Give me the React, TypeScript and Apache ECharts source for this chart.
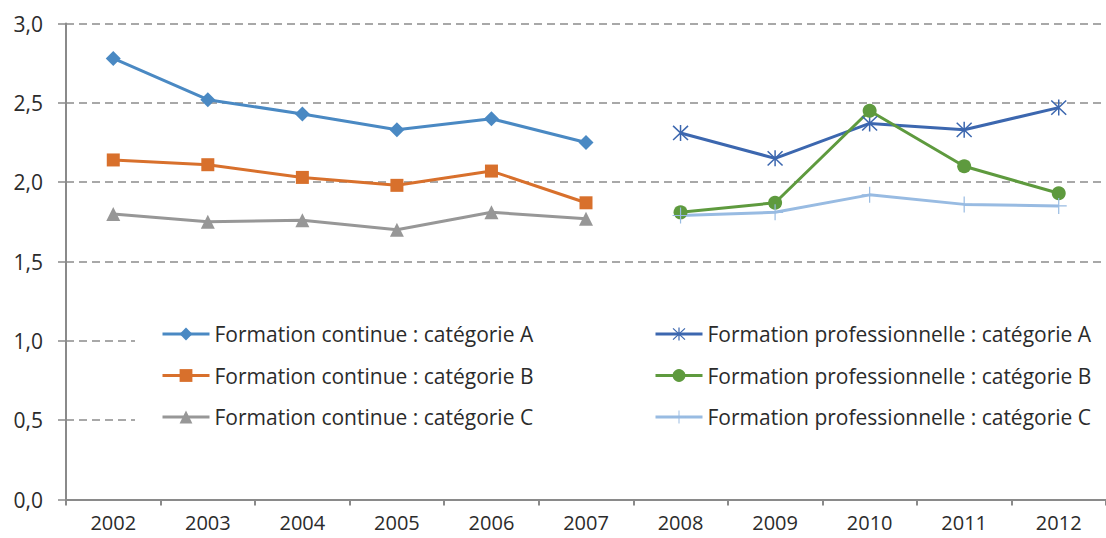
import React, { useEffect, useRef } from "react";
import * as echarts from "echarts";

const years = ["2002", "2003", "2004", "2005", "2006", "2007", "2008", "2009", "2010", "2011", "2012"];
const contA = [2.78, 2.52, 2.43, 2.33, 2.4, 2.25, null, null, null, null, null];
const contB = [2.14, 2.11, 2.03, 1.98, 2.07, 1.87, null, null, null, null, null];
const contC = [1.8, 1.75, 1.76, 1.7, 1.81, 1.77, null, null, null, null, null];
const proA = [null, null, null, null, null, null, 2.31, 2.15, 2.37, 2.33, 2.47];
const proB = [null, null, null, null, null, null, 1.81, 1.87, 2.45, 2.1, 1.93];
const proC = [null, null, null, null, null, null, 1.79, 1.81, 1.92, 1.86, 1.85];

const names = [
  "Formation continue : catégorie A",
  "Formation continue : catégorie B",
  "Formation continue : catégorie C",
  "Formation professionnelle : catégorie A",
  "Formation professionnelle : catégorie B",
  "Formation professionnelle : catégorie C",
];

const ASTERISK =
  "path://M9.2,1L10.8,1L10.8,19L9.2,19Z M2.57,1.43L18.57,17.43L17.43,18.57L1.43,2.57Z M18.57,2.57L2.57,18.57L1.43,17.43L17.43,1.43Z";
const PLUS = "path://M9.25,0L10.75,0L10.75,20L9.25,20Z M0,9.25L20,9.25L20,10.75L0,10.75Z";

const FONT = "Open Sans";
const TXT = "#2b2b2b";

export default function App() {
  const ref = useRef<HTMLDivElement>(null);
  useEffect(() => {
    const chart = echarts.init(ref.current!, null, { renderer: "svg" });
    const mk = (name: string, data: any[], color: string, symbol: string, size: number) => ({
      name,
      type: "line",
      data,
      symbol,
      symbolSize: size,
      showSymbol: true,
      connectNulls: false,
      lineStyle: { color, width: 3 },
      itemStyle: { color },
    });
    const legendBase = {
      orient: "vertical",
      top: 323,
      padding: 0,
      itemWidth: 47,
      itemHeight: 16,
      itemGap: 19.5,
      lineStyle: { width: 3 },
      textStyle: { fontSize: 21, color: TXT, fontFamily: FONT, lineHeight: 22 },
    };
    chart.setOption({
      animation: false,
      backgroundColor: "#ffffff",
      textStyle: { fontFamily: FONT },
      grid: { left: 66, top: 23.5, width: 1046, bottom: 38.5, containLabel: false },
      xAxis: {
        type: "category",
        data: years,
        boundaryGap: true,
        axisLine: { lineStyle: { color: "#8a8a8a", width: 2 } },
        axisTick: { show: true, length: 6, lineStyle: { color: "#8a8a8a", width: 2 } },
        axisLabel: { color: TXT, fontSize: 20, lineHeight: 20, margin: 13, fontFamily: FONT },
        splitLine: { show: false },
      },
      yAxis: {
        type: "value",
        min: 0,
        max: 3,
        interval: 0.5,
        axisLine: { show: true, lineStyle: { color: "#8a8a8a", width: 2 } },
        axisTick: { show: true, length: 8, lineStyle: { color: "#8a8a8a", width: 1.5 } },
        axisLabel: {
          color: TXT,
          fontSize: 21,
          margin: 23,
          fontFamily: FONT,
          formatter: (v: number) => v.toFixed(1).replace(".", ","),
        },
        splitLine: { show: true, lineStyle: { color: "#8c8c8c", width: 1.5, type: [8, 5] } },
      },
      graphic: [
        {
          type: "rect",
          z: 1,
          shape: { x: 135, y: 312, width: 970, height: 128 },
          style: { fill: "#ffffff" },
        },
      ],
      legend: [
        { ...legendBase, data: names.slice(0, 3), left: 161 },
        { ...legendBase, data: names.slice(3), left: 654 },
      ],
      series: [
        mk(names[0], contA, "#4a89c3", "diamond", 15),
        mk(names[1], contB, "#d8702c", "rect", 13),
        mk(names[2], contC, "#979797", "triangle", 14),
        mk(names[3], proA, "#3c67af", ASTERISK, 16),
        mk(names[4], proB, "#5e9a3e", "circle", 14),
        mk(names[5], proC, "#98bbe2", PLUS, 16),
      ],
    });
    return () => chart.dispose();
  }, []);
  return <div ref={ref} style={{ width: 1106, height: 538, position: "absolute", left: 0, top: 0 }} />;
}
